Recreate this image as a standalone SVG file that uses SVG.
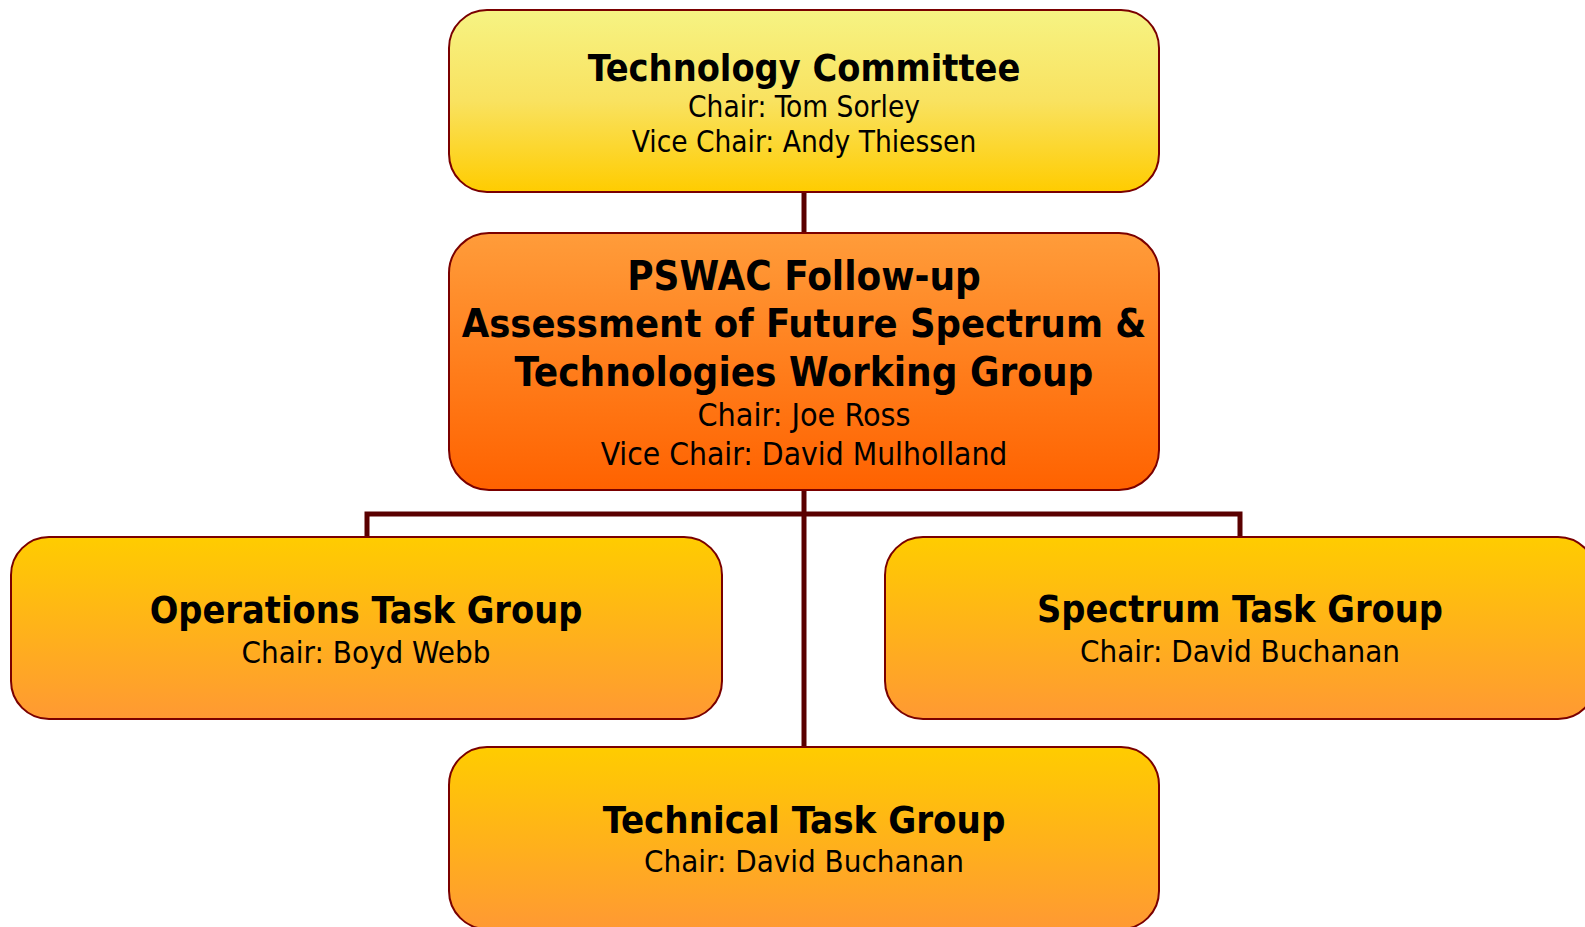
<svg xmlns="http://www.w3.org/2000/svg" width="1585" height="927" viewBox="0 0 1585 927">
<defs>
<linearGradient id="gTop" x1="0" y1="0" x2="0" y2="1"><stop offset="0" stop-color="#F6F383"/><stop offset="0.5" stop-color="#F9E260"/><stop offset="1" stop-color="#FFCC00"/></linearGradient>
<linearGradient id="gMid" x1="0" y1="0" x2="0" y2="1"><stop offset="0" stop-color="#FF9C3A"/><stop offset="1" stop-color="#FF6200"/></linearGradient>
<linearGradient id="gTask" x1="0" y1="0" x2="0" y2="1"><stop offset="0" stop-color="#FFCC00"/><stop offset="1" stop-color="#FF9933"/></linearGradient>
<style>
.box{stroke:#7A0000;stroke-width:2}
.t{font-family:"DejaVu Sans Condensed","DejaVu Sans",sans-serif;font-weight:bold;fill:#000;text-anchor:middle}
.s{font-family:"DejaVu Sans Condensed","DejaVu Sans",sans-serif;fill:#000;text-anchor:middle}
.c{stroke:#5A0000;stroke-width:5;fill:none}
</style>
</defs>
<rect width="1585" height="927" fill="#fff"/>
<g id="connectors">
<line class="c" x1="804" y1="192" x2="804" y2="234"/>
<line class="c" x1="804" y1="490" x2="804" y2="747"/>
<polyline class="c" points="367,537 367,514 1240,514 1240,537"/>
</g>
<g id="tech-committee">
<rect class="box" x="449" y="10" width="710" height="182" rx="38" fill="url(#gTop)"/>
<text class="t" x="804" y="81" font-size="37.5">Technology Committee</text>
<text class="s" x="804" y="117" font-size="29.5">Chair: Tom Sorley</text>
<text class="s" x="804" y="152" font-size="29.5">Vice Chair: Andy Thiessen</text>
</g>
<g id="pswac">
<rect class="box" x="449" y="233" width="710" height="257" rx="40" fill="url(#gMid)"/>
<text class="t" x="804" y="290" font-size="40">PSWAC Follow-up</text>
<text class="t" x="804" y="337" font-size="39.5">Assessment of Future Spectrum &amp;</text>
<text class="t" x="804" y="386" font-size="40">Technologies Working Group</text>
<text class="s" x="804" y="426" font-size="32">Chair: Joe Ross</text>
<text class="s" x="804" y="465" font-size="31.5">Vice Chair: David Mulholland</text>
</g>
<g id="operations">
<rect class="box" x="11" y="537" width="711" height="182" rx="38" fill="url(#gTask)"/>
<text class="t" x="366" y="623" font-size="37.5">Operations Task Group</text>
<text class="s" x="366" y="663" font-size="31">Chair: Boyd Webb</text>
</g>
<g id="spectrum">
<rect class="box" x="885" y="537" width="711" height="182" rx="38" fill="url(#gTask)"/>
<text class="t" x="1240" y="622" font-size="37.5">Spectrum Task Group</text>
<text class="s" x="1240" y="662" font-size="31">Chair: David Buchanan</text>
</g>
<g id="technical">
<rect class="box" x="449" y="747" width="710" height="182" rx="38" fill="url(#gTask)"/>
<text class="t" x="804" y="833" font-size="38">Technical Task Group</text>
<text class="s" x="804" y="872" font-size="31">Chair: David Buchanan</text>
</g>
</svg>
